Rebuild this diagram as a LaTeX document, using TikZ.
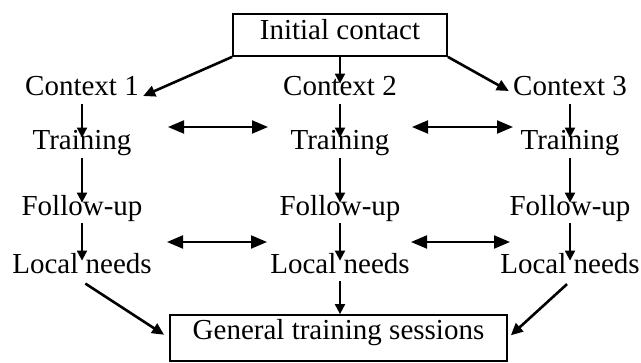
\documentclass[tikz,border=0pt]{standalone}
\usepackage{fontspec}
\setmainfont{Liberation Serif}
\usetikzlibrary{arrows.meta}
\usetikzlibrary{positioning}

\begin{document}
\begin{tikzpicture}[x=0.5pt,y=-0.5pt,
    every node/.style={font=\fontsize{14.5}{17}\selectfont, text height=0.7em, text depth=0.2em, inner sep=2pt, anchor=base},
    box/.style={draw, line width=0.9pt, inner xsep=0pt},
    down/.style={line width=1pt, -{Triangle[length=5pt,width=5pt]}, shorten >=-3pt},
    slant/.style={line width=1.3pt, -{Triangle[length=6pt,width=5.5pt]}},
    both/.style={line width=1pt, {Triangle[length=8pt,width=6.5pt]}-{Triangle[length=8pt,width=6.5pt]}}]
  \useasboundingbox (0,0) rectangle (641,363);
  \node[box, minimum width=107pt, inner ysep=6pt] (init) at (340,40) {Initial contact};
  \node[box, minimum width=168.5pt, inner ysep=5pt, text depth=6pt] (gen) at (338.5,339) {General training sessions};
  % the three columns
  \foreach \x/\n in {82/1,340/2,570/3} {
    \node (c\n) at (\x,96) {Context \n};
    \node (t\n) at (\x,150) {Training};
    \node (f\n) at (\x,215) {Follow-up};
    \node (l\n) at (\x,273) {Local needs};
    \draw[down] (c\n) -- (t\n);
    \draw[down] (t\n) -- (f\n);
    \draw[down] (f\n) -- (l\n);
  }
  \draw[slant] (init.south west) -- (c1.base east);
  \draw[down] (init.south -| c2) -- (c2);
  \draw[slant] (init.south east) -- (c3.west);
  \draw[slant, shorten <=2pt, shorten >=3pt] (l1.south) -- (gen.west);
  \draw[down, shorten >=0pt] (l2) -- (l2 |- gen.north);
  \draw[slant, shorten <=2pt, shorten >=2pt] (l3.south) -- (gen.east);
  % exchange between the columns
  \coordinate (h1) at (168,127);
  \coordinate (h2) at (268,127);
  \coordinate (h3) at (412,127);
  \coordinate (h4) at (513,127);
  \coordinate (h5) at (167,242);
  \coordinate (h6) at (267,242);
  \coordinate (h7) at (411,242);
  \coordinate (h8) at (510,242);
  \draw[both] (h1) -- (h2);
  \draw[both] (h3) -- (h4);
  \draw[both] (h5) -- (h6);
  \draw[both] (h7) -- (h8);
\end{tikzpicture}
\end{document}
